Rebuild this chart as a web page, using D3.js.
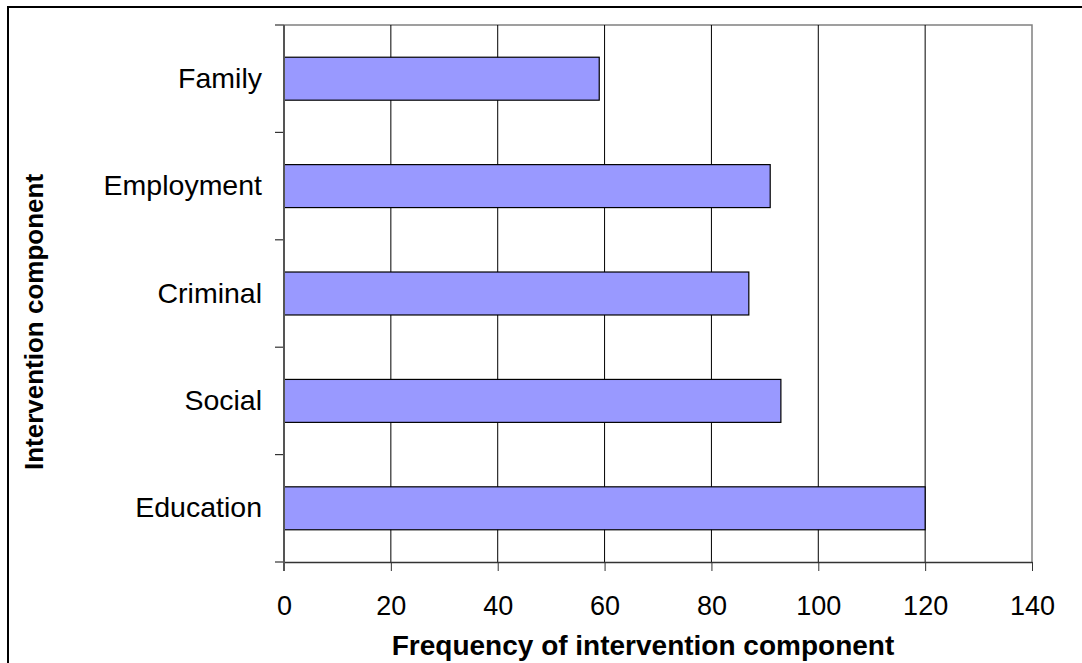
<!DOCTYPE html>
<html>
<head>
<meta charset="utf-8">
<script src="https://cdn.jsdelivr.net/npm/d3@7"></script>
<style>
  body { margin: 0; background: #fff; }
  svg { display: block; }
  text { font-family: "Liberation Sans", Arial, sans-serif; }
</style>
</head>
<body>
<svg id="SVG_CONTAINER" width="1082" height="663"></svg>
<script>
// categories from top to bottom
const categories = ["Family", "Employment", "Criminal", "Social", "Education"];
const frequencies = [59, 91, 87, 93, 120];
const xTicks = [0, 20, 40, 60, 80, 100, 120, 140];

const MARGIN = {
    "LEFT": 284,
    "RIGHT": 50,
    "TOP": 25,
    "BOTTOM": 101,
};

const width = 1082,
    height = 663;

const FONT = "'Liberation Sans', Arial, sans-serif";

let svg = d3.select("#SVG_CONTAINER");

// outer chart border (runs off the right/bottom edge)
svg.append("rect")
    .attr("x", 8)
    .attr("y", 7)
    .attr("width", 1200)
    .attr("height", 800)
    .style("fill", "none")
    .style("stroke", "#000")
    .style("stroke-width", 2);

let xScale = d3.scaleLinear()
    .domain([0, 140])
    .range([MARGIN.LEFT, width - MARGIN.RIGHT]);

let yScale = d3.scaleBand()
    .domain(categories)
    .range([MARGIN.TOP, height - MARGIN.BOTTOM])
    .paddingInner(0.6)
    .paddingOuter(0.3);

let plotBottom = height - MARGIN.BOTTOM;

// plot area border (top and right, gray)
svg.append("path")
    .attr("d", "M" + MARGIN.LEFT + "," + MARGIN.TOP + "H" + xScale(140) + "V" + plotBottom)
    .style("fill", "none")
    .style("stroke", "#808080")
    .style("stroke-width", 1.5);

// vertical gridlines
svg.append("g")
    .selectAll("line")
    .data(xTicks.slice(1, -1))
    .enter()
    .append("line")
    .attr("x1", d => xScale(d))
    .attr("x2", d => xScale(d))
    .attr("y1", MARGIN.TOP)
    .attr("y2", plotBottom)
    .style("stroke", "#000")
    .style("stroke-width", 1);

// bars
svg.append("g")
    .selectAll("rect")
    .data(categories)
    .enter()
    .append("rect")
    .attr("x", xScale(0))
    .attr("y", d => yScale(d))
    .attr("width", (d, i) => xScale(frequencies[i]) - xScale(0))
    .attr("height", yScale.bandwidth())
    .style("fill", "#9999FF")
    .style("stroke", "#000")
    .style("stroke-width", 1.2);

// x axis
let xAxis = d3.axisBottom(xScale)
    .tickValues(xTicks)
    .tickSize(9)
    .tickPadding(25)
    .tickSizeOuter(0);

let gx = svg.append("g")
    .attr("transform", "translate(0," + plotBottom + ")")
    .call(xAxis)
    .attr("font-family", FONT)
    .attr("font-size", 27);
gx.select(".domain").style("stroke", "#333").style("stroke-width", 1.5);
gx.selectAll(".tick line").style("stroke", "#333");
gx.selectAll("text").style("fill", "#000");

// y axis: ticks sit between categories
let yAxis = d3.axisLeft(yScale).tickSize(0).tickPadding(22);
let gy = svg.append("g")
    .attr("transform", "translate(" + MARGIN.LEFT + ",0)")
    .call(yAxis)
    .attr("font-family", FONT)
    .attr("font-size", 28.5);
gy.select(".domain").remove();
gy.selectAll("text").style("fill", "#000");

let step = yScale.step();
let boundaries = d3.range(categories.length + 1).map(i => MARGIN.TOP + i * step);
svg.append("g")
    .selectAll("line")
    .data(boundaries)
    .enter()
    .append("line")
    .attr("x1", MARGIN.LEFT - 9)
    .attr("x2", MARGIN.LEFT)
    .attr("y1", d => d)
    .attr("y2", d => d)
    .style("stroke", "#333")
    .style("stroke-width", 1.2);

svg.append("line")
    .attr("x1", MARGIN.LEFT)
    .attr("x2", MARGIN.LEFT)
    .attr("y1", MARGIN.TOP)
    .attr("y2", plotBottom + 9)
    .style("stroke", "#555")
    .style("stroke-width", 2);

// axis titles
svg.append("text")
    .attr("x", 643)
    .attr("y", 655)
    .attr("text-anchor", "middle")
    .style("font-size", "28px")
    .style("font-weight", "bold")
    .text("Frequency of intervention component");

svg.append("text")
    .attr("text-anchor", "middle")
    .attr("transform", "translate(43,322) rotate(-90)")
    .style("font-size", "26px")
    .style("font-weight", "bold")
    .text("Intervention component");
</script>
</body>
</html>
